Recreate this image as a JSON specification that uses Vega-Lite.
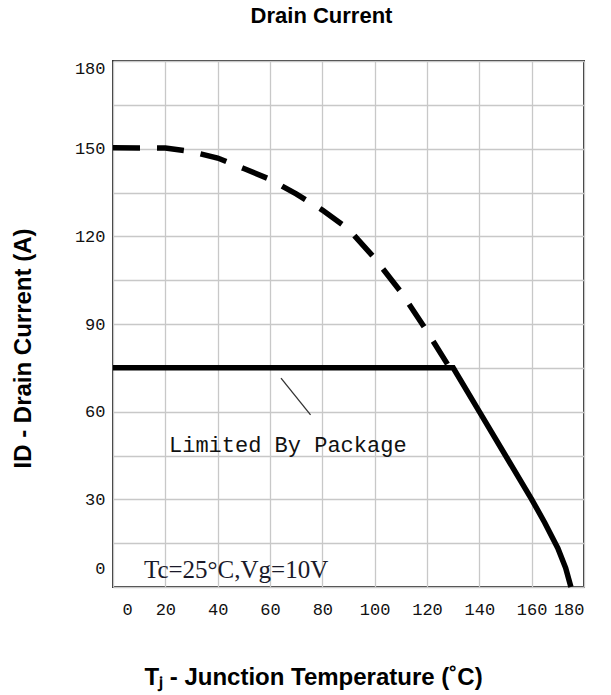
{
  "$schema": "https://vega.github.io/schema/vega-lite/v6.json",
  "autosize": {"type": "none"},
  "padding": {"left": 113, "top": 61, "right": 27, "bottom": 108},
  "width": 471,
  "height": 526,
  "background": "white",
  "title": {
    "text": "Drain Current",
    "font": "Liberation Sans",
    "fontSize": 22,
    "fontWeight": "bold",
    "color": "#000000",
    "anchor": "middle",
    "frame": "group",
    "dx": -27,
    "offset": 31
  },
  "datasets": {
    "curves": [
      {"series": "Package", "T": 0, "I": 75},
      {"series": "Package", "T": 130, "I": 75},
      {"series": "Package", "T": 140, "I": 60},
      {"series": "Package", "T": 150, "I": 45},
      {"series": "Package", "T": 160, "I": 30},
      {"series": "Package", "T": 165, "I": 22},
      {"series": "Package", "T": 170, "I": 13.3},
      {"series": "Package", "T": 173, "I": 6.5},
      {"series": "Package", "T": 175, "I": 0},
      {"series": "Silicon", "T": 0, "I": 150.3},
      {"series": "Silicon", "T": 20, "I": 150.2},
      {"series": "Silicon", "T": 30, "I": 149},
      {"series": "Silicon", "T": 40, "I": 146.8},
      {"series": "Silicon", "T": 50, "I": 143.2},
      {"series": "Silicon", "T": 60, "I": 139.5},
      {"series": "Silicon", "T": 70, "I": 134.5},
      {"series": "Silicon", "T": 80, "I": 129},
      {"series": "Silicon", "T": 90, "I": 122.5},
      {"series": "Silicon", "T": 100, "I": 112.5},
      {"series": "Silicon", "T": 110, "I": 101},
      {"series": "Silicon", "T": 120, "I": 87.5},
      {"series": "Silicon", "T": 128, "I": 76}
    ],
    "leader": [
      {"T": 64.2, "I": 71.5, "T2": 75.5, "I2": 58.9}
    ],
    "notes": [
      {"label": "Limited By Package", "T": 21.4, "I": 46.2, "kind": "mono"},
      {"label": "Tc=25°C,Vg=10V", "T": 11.8, "I": 3, "kind": "serif"}
    ]
  },
  "layer": [
    {
      "data": {"name": "curves"},
      "transform": [{"filter": "datum.series == 'Package'"}],
      "mark": {"type": "line", "color": "#000000", "strokeWidth": 5.5, "strokeCap": "butt", "strokeJoin": "miter"},
      "encoding": {
        "x": {
          "field": "T", "type": "quantitative",
          "scale": {"domain": [0, 180], "nice": false, "zero": false},
          "axis": {
            "values": [0,10,20,30,40,50,60,70,80,90,100,110,120,130,140,150,160,170,180],
            "labelExpr": "datum.value % 20 == 0 ? datum.label : ''",
            "grid": true, "gridColor": "#c8c8c8", "gridWidth": 1.3,
            "ticks": false, "domain": false,
            "labelFont": "Liberation Mono", "labelFontSize": 17, "labelColor": "#111111",
            "labelPadding": 14,
            "labelOffset": {"condition": {"test": "datum.value == 0", "value": 9}, "value": 0},
            "title": "Tⱼ - Junction Temperature (˚C)",
            "titleFont": "Liberation Sans", "titleFontSize": 24, "titleFontWeight": "bold", "titleColor": "#000000",
            "titleX": 200, "titleY": 90, "titleBaseline": "middle", "titleAlign": "center"
          }
        },
        "y": {
          "field": "I", "type": "quantitative",
          "scale": {"domain": [0, 180], "nice": false, "zero": false},
          "axis": {
            "values": [0,15,30,45,60,75,90,105,120,135,150,165,180],
            "labelExpr": "datum.value % 30 == 0 ? datum.label : ''",
            "grid": true, "gridColor": "#c8c8c8", "gridWidth": 1.3,
            "ticks": false, "domain": false,
            "labelFont": "Liberation Mono", "labelFontSize": 17, "labelColor": "#111111",
            "labelPadding": 8,
            "labelOffset": {"condition": [{"test": "datum.value == 0", "value": -19}, {"test": "datum.value == 180", "value": 7}], "value": 0},
            "title": "ID - Drain Current (A)",
            "titleFont": "Liberation Sans", "titleFontSize": 24, "titleFontWeight": "bold", "titleColor": "#000000",
            "titleX": -90, "titleY": 287, "titleBaseline": "middle", "titleAlign": "center"
          }
        }
      }
    },
    {
      "data": {"name": "curves"},
      "transform": [{"filter": "datum.series == 'Silicon'"}],
      "mark": {"type": "line", "color": "#000000", "strokeWidth": 5.5, "strokeCap": "butt", "strokeDash": [27, 17]},
      "encoding": {
        "x": {"field": "T", "type": "quantitative"},
        "y": {"field": "I", "type": "quantitative"}
      }
    },
    {
      "data": {"name": "leader"},
      "mark": {"type": "rule", "color": "#333333", "strokeWidth": 1.3},
      "encoding": {
        "x": {"field": "T", "type": "quantitative"},
        "y": {"field": "I", "type": "quantitative"},
        "x2": {"field": "T2"},
        "y2": {"field": "I2"}
      }
    },
    {
      "data": {"name": "notes"},
      "transform": [{"filter": "datum.kind == 'mono'"}],
      "mark": {"type": "text", "font": "Liberation Mono", "fontSize": 22, "align": "left", "baseline": "alphabetic", "color": "#111111"},
      "encoding": {
        "x": {"field": "T", "type": "quantitative"},
        "y": {"field": "I", "type": "quantitative"},
        "text": {"field": "label"}
      }
    },
    {
      "data": {"name": "notes"},
      "transform": [{"filter": "datum.kind == 'serif'"}],
      "mark": {"type": "text", "font": "Liberation Serif", "fontSize": 25, "align": "left", "baseline": "alphabetic", "color": "#1a1a2a"},
      "encoding": {
        "x": {"field": "T", "type": "quantitative"},
        "y": {"field": "I", "type": "quantitative"},
        "text": {"field": "label"}
      }
    }
  ],
  "config": {
    "view": {"stroke": "#333333", "strokeWidth": 2}
  }
}
